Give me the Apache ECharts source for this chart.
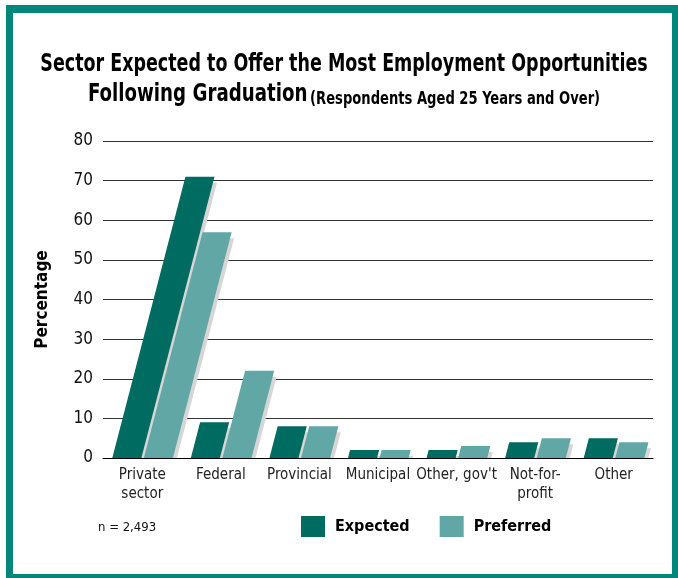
<!DOCTYPE html>
<html>
<head>
<meta charset="utf-8">
<script src="https://cdn.jsdelivr.net/npm/echarts@6/dist/echarts.min.js"></script>
<style>
  html, body { margin: 0; padding: 0; background: #ffffff; }
  #chart { width: 678px; height: 578px; }
</style>
</head>
<body>
<div id="chart"></div>
<script>
// Survey: sector expected vs. preferred for employment after graduation (%)
const categories = ['Private\nsector', 'Federal', 'Provincial', 'Municipal', "Other, gov't", 'Not-for-\nprofit', 'Other'];
const expected = [71, 9, 8, 2, 2, 4, 5];
const preferred = [57, 22, 8, 2, 3, 5, 4];
const yTicks = [0, 10, 20, 30, 40, 50, 60, 70, 80];
const seriesNames = ['Expected', 'Preferred'];

const FONT = "'Liberation Sans Narrow', 'DejaVu Sans Condensed', 'Arial Narrow', sans-serif";
const DARK = '#006b61';
const LIGHT = '#60a7a5';
const FRAME = '#00877c';
const SHADOW = '#d6d6d6';
const SLANT = 0.26;  // horizontal lean per pixel of bar height

// Slanted bar with a soft drop shadow; side 0 sits left of the category centre, side 1 right
function slantedBar(side, color) {
  return function (params, api) {
    const cat = api.value(0);
    const v = api.value(1);
    const base = api.coord([cat, 0]);
    const top = api.coord([cat, v]);
    const band = api.size([1, 0])[0];
    const w = band * 0.37;
    const x0 = side === 0 ? base[0] - band * 0.382 : base[0] + band * 0.02;
    const y0 = base[1];
    const y1 = top[1];
    const s = (y0 - y1) * SLANT;
    const children = [];
    const dx = 4, dy = 6;
    if (y0 - y1 > dy) {
      const s2 = (y0 - y1 - dy) * SLANT;
      children.push({
        type: 'polygon',
        shape: { points: [[x0 + dx, y0], [x0 + w + dx, y0], [x0 + w + dx + s2, y1 + dy], [x0 + dx + s2, y1 + dy]] },
        style: { fill: SHADOW }
      });
    }
    children.push({
      type: 'polygon',
      shape: { points: [[x0, y0], [x0 + w, y0], [x0 + w + s, y1], [x0 + s, y1]] },
      style: { fill: color }
    });
    return { type: 'group', children: children };
  };
}

const chart = echarts.init(document.getElementById('chart'), null, { renderer: 'canvas' });

chart.setOption({
  backgroundColor: '#ffffff',
  animation: false,
  textStyle: { fontFamily: FONT },
  legend: {
    left: 296,
    top: 511,
    itemWidth: 24,
    itemHeight: 21,
    itemGap: 30,
    icon: 'rect',
    data: seriesNames,
    textStyle: { fontFamily: FONT, fontWeight: 'bold', fontSize: 16, color: '#000', padding: [0, 0, 0, 5] }
  },
  grid: { left: 103, right: 25, top: 141, bottom: 120 },
  xAxis: {
    type: 'category',
    data: categories,
    axisLine: { lineStyle: { color: '#000', width: 1 } },
    axisTick: { show: false },
    axisLabel: { interval: 0, fontFamily: FONT, fontSize: 15, color: '#222', margin: 8, lineHeight: 19 }
  },
  yAxis: {
    type: 'value',
    min: 0,
    max: 80,
    interval: 10,
    name: 'Percentage',
    nameLocation: 'middle',
    nameRotate: 90,
    nameGap: 52,
    nameTextStyle: { fontFamily: FONT, fontWeight: 'bold', fontSize: 17, color: '#000' },
    axisLine: { show: false },
    axisTick: { show: false },
    axisLabel: {
      fontFamily: FONT, fontSize: 17, color: '#111', margin: 10,
      formatter: function (val) { return yTicks.indexOf(val) >= 0 ? String(val) : ''; }
    },
    splitLine: { lineStyle: { color: '#333', width: 1 } }
  },
  series: [
    {
      name: seriesNames[0],
      type: 'custom',
      itemStyle: { color: DARK },
      renderItem: slantedBar(0, DARK),
      encode: { x: 0, y: 1 },
      data: expected.map(function (v, i) { return [i, v]; })
    },
    {
      name: seriesNames[1],
      type: 'custom',
      itemStyle: { color: LIGHT },
      renderItem: slantedBar(1, LIGHT),
      encode: { x: 0, y: 1 },
      data: preferred.map(function (v, i) { return [i, v]; })
    }
  ],
  graphic: [
    // two-line condensed heading
    {
      type: 'text', x: 344, y: 65, scaleX: 0.81,
      style: {
        text: 'Sector Expected to Offer the Most Employment Opportunities',
        fontFamily: FONT, fontWeight: 'bold', fontSize: 24, fill: '#000',
        align: 'center', verticalAlign: 'middle'
      }
    },
    {
      type: 'text', x: 344, y: 94, scaleX: 0.81,
      style: {
        text: '{a|Following Graduation} {b|(Respondents Aged 25 Years and Over)}',
        align: 'center', verticalAlign: 'middle',
        rich: {
          a: { fontFamily: FONT, fontWeight: 'bold', fontSize: 25, lineHeight: 28, fill: '#000' },
          b: { fontFamily: FONT, fontWeight: 'bold', fontSize: 18, lineHeight: 28, fill: '#000', verticalAlign: 'bottom' }
        }
      }
    },
    // sample size note
    { type: 'text', left: 98, top: 521, style: { text: 'n = 2,493', fontFamily: FONT, fontSize: 13, fill: '#111' } },
    // teal frame
    { type: 'rect', shape: { x: 6, y: 5, width: 672, height: 8 }, style: { fill: FRAME } },
    { type: 'rect', shape: { x: 6, y: 5, width: 7, height: 573 }, style: { fill: FRAME } },
    { type: 'rect', shape: { x: 672, y: 5, width: 6, height: 573 }, style: { fill: FRAME } },
    { type: 'rect', shape: { x: 6, y: 574, width: 672, height: 4 }, style: { fill: FRAME } }
  ]
});
</script>
</body>
</html>
